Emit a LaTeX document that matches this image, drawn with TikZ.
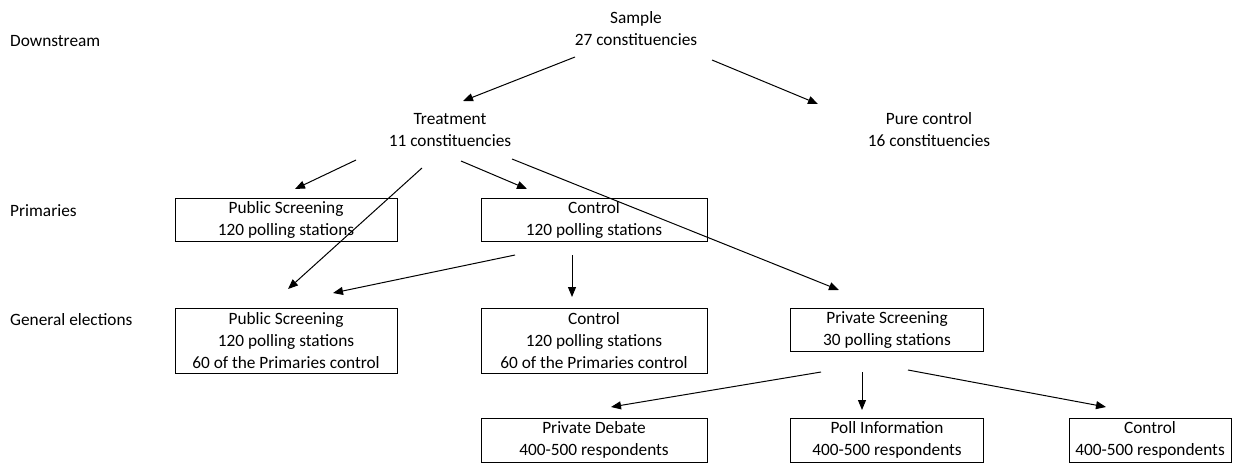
\documentclass[tikz,border=0pt]{standalone}
\usepackage{fontspec}
\setmainfont{Carlito}
\usepackage{tikz}
\usetikzlibrary{calc,arrows.meta}

\tikzset{
        txt/.style={align=center, inner sep=0pt, font=\fontsize{17.3}{22}\selectfont},
        box/.style={txt, draw, line width=0.9pt},
        arr/.style={line width=1pt, -{Triangle[length=10pt,width=8pt]}}
}

\begin{document}
\begin{tikzpicture}[x=1pt, y=-1pt]
        \useasboundingbox (0,0) rectangle (1241,464);
        % stage labels
        \node[txt, anchor=west] (down) at (10,41) {Downstream};
        \node[txt, anchor=west] (prim) at (10,211) {Primaries};
        \node[txt, anchor=west] (gen) at (10,320) {General elections};
        % tree
        \node[txt] (sample) at (636,29) {Sample\\27 constituencies};
        \node[txt] (treat) at (450,130) {Treatment\\11 constituencies};
        \node[txt] (pure) at (929,130) {Pure control\\16 constituencies};
        \node[box, minimum width=222pt, minimum height=43pt] (pubP) at (286,220) {Public Screening\\120 polling stations};
        \node[box, minimum width=226pt, minimum height=43pt] (ctlP) at (594,220) {Control\\120 polling stations};
        \node[box, minimum width=222pt, minimum height=65pt] (pubG) at (286,341) {Public Screening\\120 polling stations\\60 of the Primaries control};
        \node[box, minimum width=226pt, minimum height=65pt] (ctlG) at (594,341) {Control\\120 polling stations\\60 of the Primaries control};
        \node[box, minimum width=193pt, minimum height=43pt] (privS) at (887,330) {Private Screening\\30 polling stations};
        \node[box, minimum width=226pt, minimum height=44pt] (debate) at (594,440) {Private Debate\\400-500 respondents};
        \node[box, minimum width=193pt, minimum height=44pt] (poll) at (887,440) {Poll Information\\400-500 respondents};
        \node[box, minimum width=162pt, minimum height=44pt] (ctlB) at (1150,440) {Control\\400-500 respondents};

        \draw[arr] ($(sample)+(-61,28)$) -- ($(treat)+(13,-29)$);
        \draw[arr] ($(sample)+(76,31)$) -- ($(pure)+(-111,-26)$);
        \draw[arr] ($(treat)+(-94,30)$) -- ($(pubP)+(9,-31)$);
        \draw[arr] ($(treat)+(-28,38)$) -- ($(pubG)+(2,-52)$);
        \draw[arr] ($(treat)+(11,31)$) -- ($(ctlP)+(-67,-31)$);
        \draw[arr] ($(treat)+(62,29)$) -- ($(privS)+(-48,-40)$);
        \draw[arr] ($(ctlP)+(-79,35)$) -- ($(pubG)+(47,-48)$);
        \draw[arr] ($(ctlP)+(-22,35)$) -- ($(ctlG)+(-22,-44)$);
        \draw[arr] ($(privS)+(-66,42)$) -- ($(debate)+(17,-33)$);
        \draw[arr] ($(privS)+(-25,42)$) -- ($(poll)+(-25,-30)$);
        \draw[arr] ($(privS)+(21,40)$) -- ($(ctlB)+(-44,-33)$);
\end{tikzpicture}
\end{document}
